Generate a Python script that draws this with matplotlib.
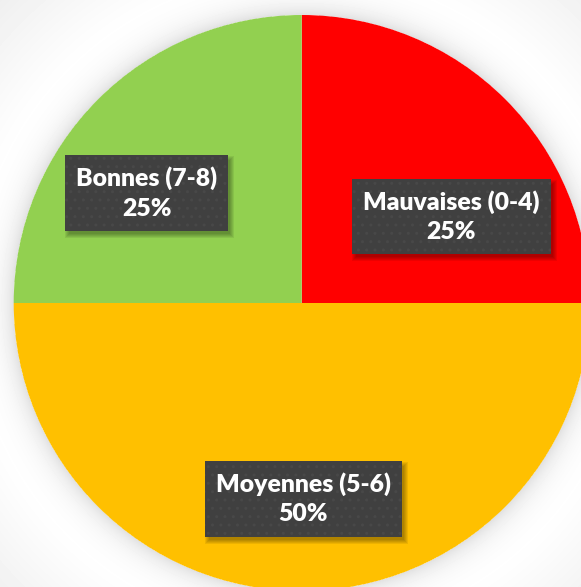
import numpy as np
import matplotlib
matplotlib.use("Agg")
import matplotlib.pyplot as plt
from matplotlib.patches import Rectangle
from matplotlib.transforms import IdentityTransform

# Data
categories = ["Mauvaises (0-4)", "Moyennes (5-6)", "Bonnes (7-8)"]
shares = [25, 50, 25]
colors = ["#FF0000", "#FFC000", "#92D050"]
# label layout (angle in degrees, distance as fraction of radius)
label_layout = [(30, 0.60), (270.5, 0.68), (144.6, 0.66)]

W, H, DPI = 581, 587, 100
fig = plt.figure(figsize=(W / DPI, H / DPI), dpi=DPI)

# Pie geometry (pixels)
cx, cy, R = 301.7, 303.0, 288.0

# Background with soft gradient and pie shadow
bg_ax = fig.add_axes([0, 0, 1, 1])
yy, xx = np.mgrid[0:H, 0:W] + 0.5
r = np.hypot(xx - cx, yy - cy)
base = 1.0 - 0.065 * np.clip((r - 330) / 100.0, 0, 1)
shadow = np.where(r > R, 0.12 * np.exp(-(r - R) / 12.0), 0)
img = np.clip(base - shadow, 0, 1)
bg_ax.imshow(img, cmap="gray", vmin=0, vmax=1, extent=(0, W, H, 0), interpolation="bilinear")
bg_ax.set_axis_off()

ax = fig.add_axes([(cx - R) / W, (H - cy - R) / H, 2 * R / W, 2 * R / H])
wedges, _ = ax.pie(shares, colors=colors, startangle=90, counterclock=False,
                   radius=1.0, wedgeprops=dict(linewidth=0))
ax.set_xlim(-1, 1)
ax.set_ylim(-1, 1)
ax.set_aspect("auto")
ax.set_axis_off()

total = sum(shares)
texts = []
for cat, val, (ang, dist) in zip(categories, shares, label_layout):
    a = np.deg2rad(ang)
    t = ax.text(dist * np.cos(a), dist * np.sin(a), f"{cat}\n{round(100 * val / total)}%",
                ha="center", va="center", color="white", fontsize=17.8, zorder=5,
                fontweight="heavy", family=["Lato", "DejaVu Sans"], linespacing=1.42,
                bbox=dict(boxstyle="square,pad=0.45", facecolor="#404040",
                          edgecolor="#484848", linewidth=0, hatch=".."))
    texts.append(t)

# soft drop shadows behind the label boxes
fig.canvas.draw()
for t in texts:
    bb = t.get_bbox_patch().get_window_extent()
    for k in range(5, 0, -1):
        g = k * 1.0
        ax.add_patch(Rectangle((bb.x0 + 3 - g + 2, bb.y0 - 4 - g + 2),
                               bb.width + 2 * g - 4, bb.height + 2 * g - 4,
                               transform=IdentityTransform(), facecolor="black",
                               edgecolor="none", alpha=0.07, zorder=4))

fig.savefig("out.png", dpi=DPI)
